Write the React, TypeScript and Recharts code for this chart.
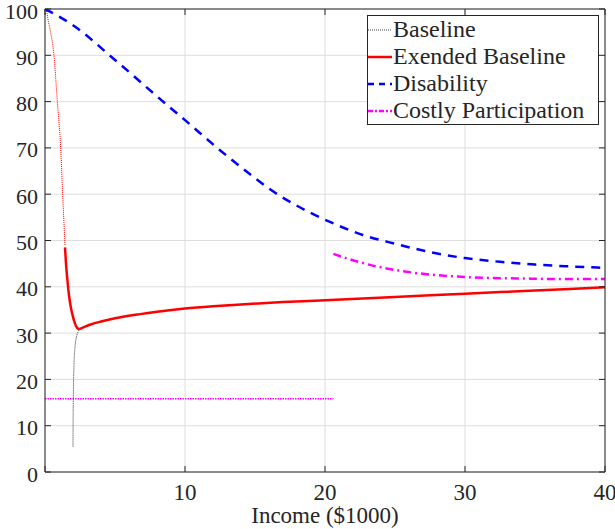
import React from "react";
import { LineChart, Line, XAxis, YAxis, CartesianGrid } from "recharts";

// ---- Data ----
const xTicks = [0, 10, 20, 30, 40];
const yTicks = [0, 10, 20, 30, 40, 50, 60, 70, 80, 90, 100];

const baselineX = [2.0, 2.01, 2.03, 2.07, 2.13, 2.22, 2.35, 2.5, 2.7, 3.2, 4, 5, 6.8, 8, 10, 12, 14, 17, 20, 25, 30, 35, 40];
const baselineY = [5.5, 12, 18, 23, 26.5, 28.8, 30.2, 30.9, 31.2, 31.8, 32.5, 33.2, 34.1, 34.6, 35.3, 35.8, 36.2, 36.7, 37.1, 37.8, 38.5, 39.2, 39.9];

const extDottedX = [0.1, 0.2, 0.4, 0.64, 0.88, 1.12, 1.26, 1.43];
const extDottedY = [100, 98, 95, 90, 80, 70, 60, 49];

const extSolidX = [1.43, 1.5, 1.6, 1.7, 1.85, 2.0, 2.15, 2.3, 2.45, 2.7, 3.2, 4, 5, 6.8, 8, 10, 12, 14, 17, 20, 25, 30, 35, 40];
const extSolidY = [48.5, 45, 41.5, 38.5, 35.5, 33.5, 32, 31.1, 30.9, 31.2, 31.8, 32.5, 33.2, 34.1, 34.6, 35.3, 35.8, 36.2, 36.7, 37.1, 37.8, 38.5, 39.2, 39.9];

const disabilityX = [0, 2, 5, 8.9, 10, 12.5, 15, 16.1, 18, 20, 22.7, 25, 27.5, 30, 32.5, 35, 37.5, 40];
const disabilityY = [100, 96.5, 89, 78.8, 76, 69.5, 63.5, 61, 57.5, 54.5, 51.2, 49.3, 47.5, 46.2, 45.4, 44.8, 44.4, 44.1];

const costlyX = [20.6, 21.5, 22.5, 24, 25.5, 27, 28.5, 30, 32, 34, 36, 38, 40];
const costlyY = [47.1, 46.2, 45.3, 44.2, 43.4, 42.8, 42.4, 42.1, 41.9, 41.8, 41.7, 41.7, 41.7];

const flatX = [0, 20.6];
const flatY = [15.8, 15.8];

const legendLabels = ["Baseline", "Exended Baseline", "Disability", "Costly Participation"];

const toPts = (xs: number[], ys: number[]) => xs.map((x, i) => ({ x, y: ys[i] }));

const baseline = toPts(baselineX, baselineY);
const extDotted = toPts(extDottedX, extDottedY);
const extSolid = toPts(extSolidX, extSolidY);
const disability = toPts(disabilityX, disabilityY);
const costly = toPts(costlyX, costlyY);
const flat = toPts(flatX, flatY);

const FONT = "'Liberation Serif', 'DejaVu Serif', serif";
const AXIS = "#262626";
const TICK_LEN = 6;

const BottomTick = (p: any) => {
  const { x, y, payload } = p;
  return (
    <g>
      <line x1={x} y1={y} x2={x} y2={y - TICK_LEN} stroke={AXIS} strokeWidth={1} />
      {payload.value !== 0 && (
        <text x={x} y={y + 20} textAnchor="middle" dominantBaseline="central" fontFamily={FONT} fontSize={23} fill="#262626">
          {payload.value}
        </text>
      )}
    </g>
  );
};

const TopTick = (p: any) => {
  const { x, y } = p;
  return <line x1={x} y1={y} x2={x} y2={y + TICK_LEN} stroke={AXIS} strokeWidth={1} />;
};

const LeftTick = (p: any) => {
  const { x, y, payload } = p;
  return (
    <g>
      <line x1={x} y1={y} x2={x + TICK_LEN} y2={y} stroke={AXIS} strokeWidth={1} />
      <text x={x - 7} y={y + 2} textAnchor="end" dominantBaseline="central" fontFamily={FONT} fontSize={22} fill="#262626">
        {payload.value}
      </text>
    </g>
  );
};

const RightTick = (p: any) => {
  const { x, y } = p;
  return <line x1={x} y1={y} x2={x - TICK_LEN} y2={y} stroke={AXIS} strokeWidth={1} />;
};

const legendStyles = [
  { stroke: "#444", width: 1, dash: "1 1" },
  { stroke: "#ff0000", width: 2.5, dash: undefined },
  { stroke: "#0000ff", width: 2.5, dash: "6 5" },
  { stroke: "#ff00ff", width: 2.5, dash: "5 2 2 2" },
];

export default function App() {
  return (
    <div style={{ position: "absolute", left: 0, top: 0, width: 615, height: 529, background: "#fff" }}>
      <LineChart width={615} height={529} margin={{ top: 0, right: 0, bottom: 0, left: 0 }}>
        <CartesianGrid stroke="#dedede" strokeWidth={1} />
        <XAxis
          xAxisId={0}
          dataKey="x"
          type="number"
          domain={[0, 40]}
          ticks={xTicks}
          height={57}
          tickSize={0}
          tickMargin={0}
          tickLine={false}
          tick={BottomTick}
          stroke={AXIS}
          allowDataOverflow
          interval={0}
          label={{ value: "Income ($1000)", position: "insideBottom", offset: 6, style: { fontFamily: FONT, fontSize: 23, fill: "#262626" } }}
        />
        <XAxis
          xAxisId="top"
          orientation="top"
          dataKey="x"
          type="number"
          domain={[0, 40]}
          ticks={xTicks}
          height={9}
          tickSize={0}
          tickMargin={0}
          tickLine={false}
          tick={TopTick}
          stroke={AXIS}
          allowDataOverflow
          interval={0}
        />
        <YAxis
          yAxisId={0}
          type="number"
          domain={[0, 100]}
          ticks={yTicks}
          width={45}
          tickSize={0}
          tickMargin={0}
          tickLine={false}
          tick={LeftTick}
          stroke={AXIS}
          allowDataOverflow
          interval={0}
        />
        <YAxis
          yAxisId="right"
          orientation="right"
          type="number"
          domain={[0, 100]}
          ticks={yTicks}
          width={10}
          tickSize={0}
          tickMargin={0}
          tickLine={false}
          tick={RightTick}
          stroke={AXIS}
          allowDataOverflow
          interval={0}
        />
        <Line data={flat} dataKey="y" type="linear" stroke="#ff00ff" strokeWidth={1.5} strokeDasharray="1.5 1" dot={false} isAnimationActive={false} />
        <Line data={baseline} dataKey="y" type="monotone" stroke="#333" strokeWidth={1} strokeDasharray="1 1" dot={false} isAnimationActive={false} />
        <Line data={extDotted} dataKey="y" type="monotone" stroke="#ff0000" strokeWidth={1} strokeDasharray="1 1" dot={false} isAnimationActive={false} />
        <Line data={extSolid} dataKey="y" type="monotone" stroke="#ff0000" strokeWidth={2.5} dot={false} isAnimationActive={false} />
        <Line data={disability} dataKey="y" type="monotone" stroke="#0000ff" strokeWidth={2.5} strokeDasharray="9 7" dot={false} isAnimationActive={false} />
        <Line data={costly} dataKey="y" type="monotone" stroke="#ff00ff" strokeWidth={2.5} strokeDasharray="8 4 2 4" dot={false} isAnimationActive={false} />
      </LineChart>
      <div
        style={{
          position: "absolute",
          left: 367,
          top: 15,
          width: 230,
          height: 108,
          border: "1px solid #262626",
          background: "#fff",
          fontFamily: FONT,
          fontSize: 24,
          color: "#262626",
          paddingTop: 0,
        }}
      >
        {legendLabels.map((label, i) => (
          <div key={label} style={{ display: "flex", alignItems: "center", height: 27, whiteSpace: "nowrap" }}>
            <svg width={24} height={10} style={{ flex: "none" }}>
              <line x1={0} y1={5} x2={24} y2={5} stroke={legendStyles[i].stroke} strokeWidth={legendStyles[i].width} strokeDasharray={legendStyles[i].dash} />
            </svg>
            <span style={{ marginLeft: 1, lineHeight: "27px" }}>{label}</span>
          </div>
        ))}
      </div>
    </div>
  );
}
